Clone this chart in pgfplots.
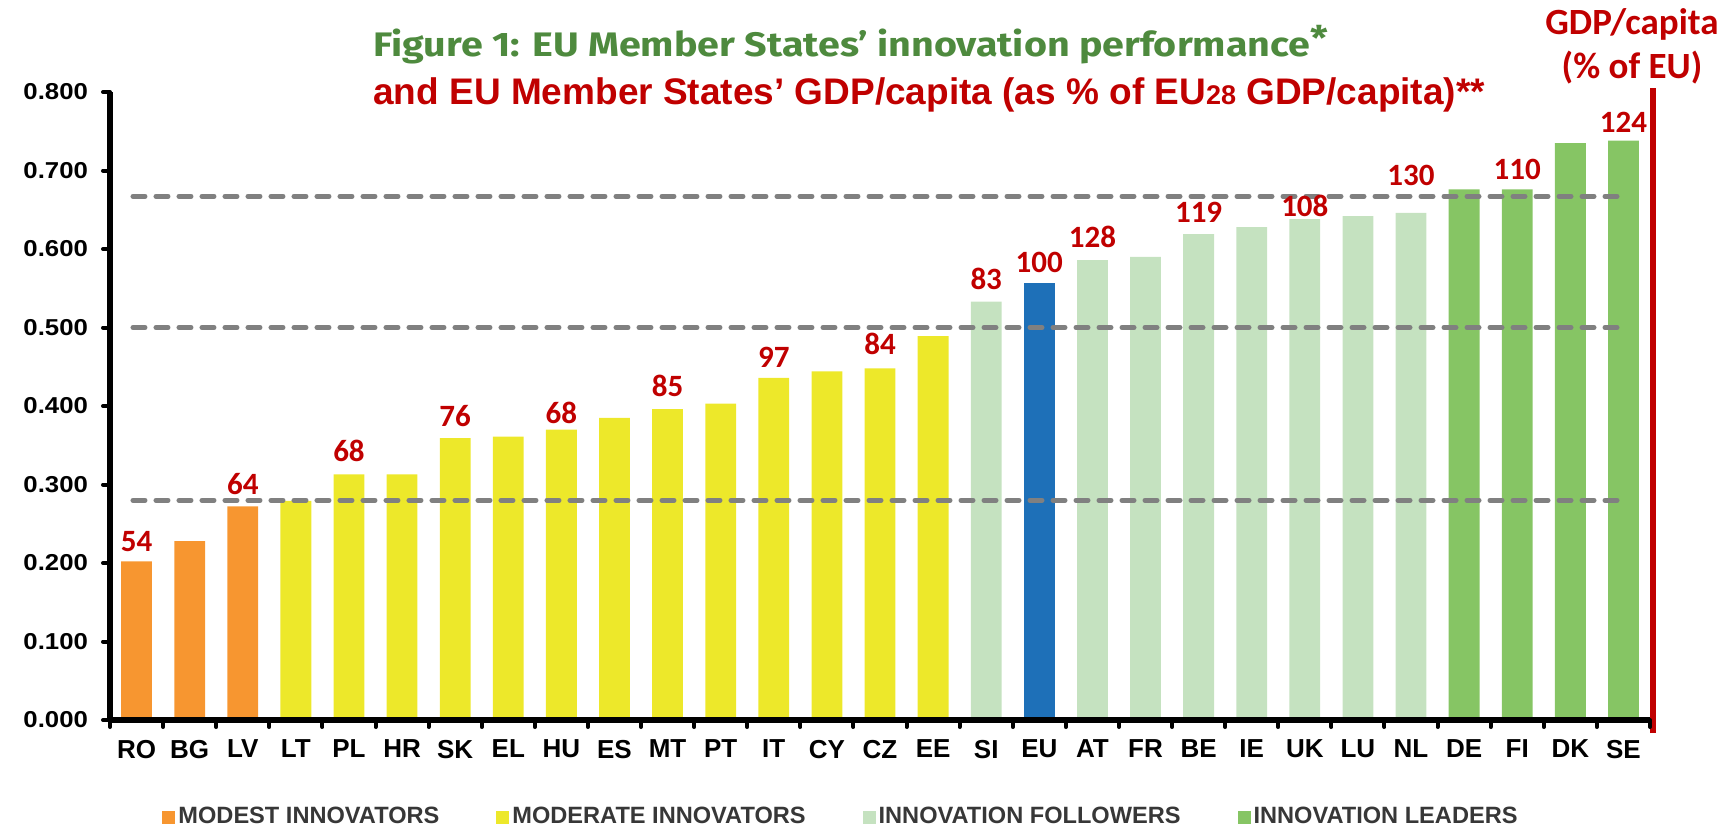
\documentclass[border=0pt]{standalone}
\usepackage{fontspec}
\setmainfont{Liberation Sans}
\newfontfamily\carlito{Carlito}
\newfontfamily\fira[FakeStretch=1.16]{Fira Sans}
\newfontfamily\yfont[FakeStretch=1.12]{Liberation Sans}
\usepackage{pgfplots}
\pgfplotsset{compat=1.18}
\definecolor{cOrange}{RGB}{247,150,48}
\definecolor{cYellow}{RGB}{237,232,42}
\definecolor{cLight}{RGB}{197,226,192}
\definecolor{cGreen}{RGB}{134,197,100}
\definecolor{cBlue}{RGB}{30,112,184}
\definecolor{cRed}{RGB}{192,0,0}
\definecolor{cTitle}{RGB}{78,138,62}
\definecolor{cDash}{RGB}{128,128,128}
\definecolor{cLegend}{RGB}{55,55,55}
\begin{document}
\begin{tikzpicture}
\useasboundingbox (0,0) rectangle (863pt,416pt);
\node[anchor=base west, inner sep=0pt, text=cTitle, font=\fira\bfseries\fontsize{17}{17}\selectfont] at (186.5pt,387.5pt) {Figure 1: EU Member States’ innovation performance\raisebox{3pt}{*}};
\node[anchor=base west, inner sep=0pt, text=cRed, font=\bfseries\fontsize{18.5}{18.5}\selectfont] at (186.5pt,363.5pt) {and EU Member States’ GDP/capita (as \% of EU{\fontsize{13.5}{13.5}\selectfont 28} GDP/capita)**};
\node[anchor=base, inner sep=0pt, text=cRed, font=\carlito\bfseries\fontsize{18.5}{18.5}\selectfont] at (816pt,398.5pt) {GDP/capita};
\node[anchor=base, inner sep=0pt, text=cRed, font=\carlito\bfseries\fontsize{18.5}{18.5}\selectfont] at (816pt,376.5pt) {(\% of EU)};
\begin{axis}[
  at={(55pt,56pt)}, anchor=south west,
  scale only axis, width=770pt, height=314pt,
  xmin=-0.5, xmax=28.5, ymin=0, ymax=0.8,
  axis lines=left, axis line style={line width=3pt, -},
  axis on top=true,
  clip=false,
  xtick={-0.5,0.5,...,28.5},
  x tick label as interval=true,
  xticklabels={RO,BG,LV,LT,PL,HR,SK,EL,HU,ES,MT,PT,IT,CY,CZ,EE,SI,EU,AT,FR,BE,IE,UK,LU,NL,DE,FI,DK,SE},
  x tick label style={font=\bfseries\fontsize{13}{13}\selectfont, yshift=-3pt},
  ytick={0,0.1,0.2,0.3,0.4,0.5,0.6,0.7,0.8},
  yticklabels={0.000,0.100,0.200,0.300,0.400,0.500,0.600,0.700,0.800},
  y tick label style={font=\yfont\bfseries\fontsize{11.5}{11.5}\selectfont, xshift=-4pt},
  tick align=outside, major tick length=3.5pt,
  tick style={line width=2pt, black, line cap=round},
  legend columns=4,
  legend cell align=left,
  legend style={draw=none, fill=none, at={(0.0338,-0.1545)}, anchor=west,
    font=\bfseries\fontsize{11.8}{12}\selectfont, text=cLegend, inner sep=0pt,
    /tikz/every even column/.append style={column sep=27pt},
    nodes={inner sep=1.5pt}},
]
\addplot[ybar, bar width=0.58, bar shift=0pt, fill=cOrange, draw=none,
  legend image code/.code={\fill[cOrange] (0pt,-3.25pt) rectangle (6.5pt,3.25pt);}]
  coordinates {(0,0.202) (1,0.228) (2,0.272)};
\addlegendentry{MODEST INNOVATORS}
\addplot[ybar, bar width=0.58, bar shift=0pt, fill=cYellow, draw=none,
  legend image code/.code={\fill[cYellow] (0pt,-3.25pt) rectangle (6.5pt,3.25pt);}]
  coordinates {(3,0.279) (4,0.313) (5,0.313) (6,0.359) (7,0.361) (8,0.370) (9,0.385) (10,0.396) (11,0.403) (12,0.436) (13,0.444) (14,0.448) (15,0.489)};
\addlegendentry{MODERATE INNOVATORS}
\addplot[ybar, bar width=0.58, bar shift=0pt, fill=cLight, draw=none,
  legend image code/.code={\fill[cLight] (0pt,-3.25pt) rectangle (6.5pt,3.25pt);}]
  coordinates {(16,0.533) (18,0.586) (19,0.590) (20,0.619) (21,0.628) (22,0.638) (23,0.642) (24,0.646)};
\addlegendentry{INNOVATION FOLLOWERS}
\addplot[ybar, bar width=0.58, bar shift=0pt, fill=cGreen, draw=none,
  legend image code/.code={\fill[cGreen] (0pt,-3.25pt) rectangle (6.5pt,3.25pt);}]
  coordinates {(25,0.676) (26,0.676) (27,0.735) (28,0.738)};
\addlegendentry{INNOVATION LEADERS}
\addplot[ybar, bar width=0.58, bar shift=0pt, fill=cBlue, draw=none, forget plot]
  coordinates {(17,0.557)};
\addplot[forget plot, cDash, line width=2.5pt, line cap=round, dash pattern=on 6pt off 5.5pt]
  coordinates {(-0.067,0.28) (28,0.28)};
\addplot[forget plot, cDash, line width=2.5pt, line cap=round, dash pattern=on 6pt off 5.5pt]
  coordinates {(-0.067,0.5) (28,0.5)};
\addplot[forget plot, cDash, line width=2.5pt, line cap=round, dash pattern=on 6pt off 5.5pt]
  coordinates {(-0.067,0.667) (28,0.667)};
\addplot[forget plot, draw=none, mark=none, nodes near coords, point meta=explicit symbolic,
  every node near coord/.append style={anchor=base, inner sep=0pt, text=cRed,
    font=\carlito\bfseries\fontsize{15.5}{15.5}\selectfont}]
  table[meta=l] {
x y l
0 0.2145 54
2 0.2868 64
4 0.329 68
6 0.3738 76
8 0.378 68
10 0.412 85
12 0.4486 97
14 0.4652 84
16 0.548 83
17 0.570 100
18 0.6016 128
20 0.6334 119
22 0.6415 108
24 0.6806 130
26 0.688 110
28 0.748 124
};
\draw[cRed, line width=3pt] (axis cs:28.56,-0.0166) -- (axis cs:28.56,0.8055);
\end{axis}
\end{tikzpicture}
\end{document}
